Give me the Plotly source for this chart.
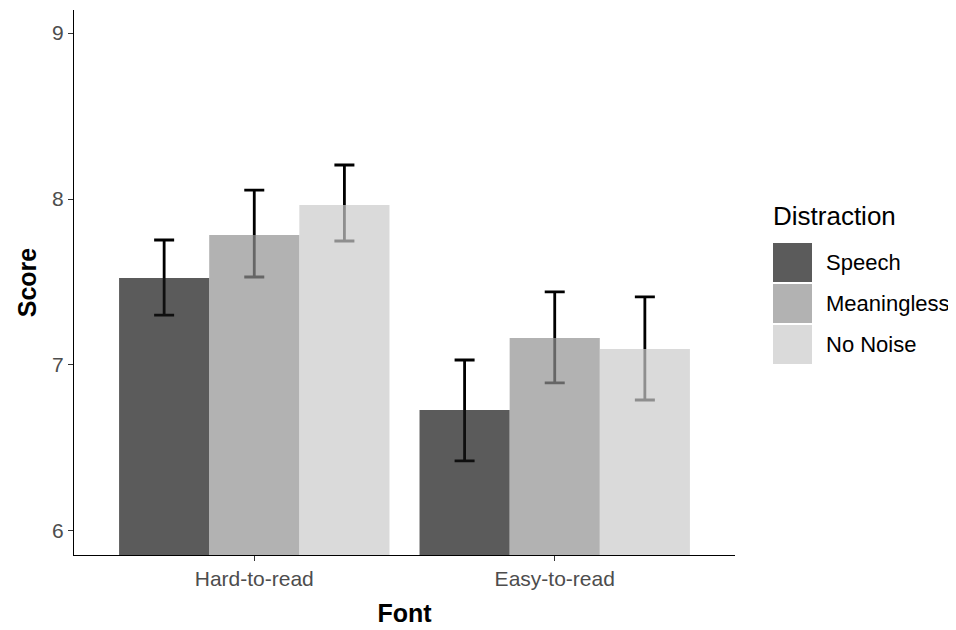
import plotly.graph_objects as go

fonts = ["Hard-to-read", "Easy-to-read"]
distractions = ["Speech", "Meaningless", "No Noise"]
scores = {
    "Speech": [7.524, 6.729],
    "Meaningless": [7.783, 7.163],
    "No Noise": [7.964, 7.096],
}
err_hi = {
    "Speech": [7.753, 7.030],
    "Meaningless": [8.054, 7.440],
    "No Noise": [8.205, 7.410],
}
err_lo = {
    "Speech": [7.301, 6.422],
    "Meaningless": [7.530, 6.892],
    "No Noise": [7.747, 6.789],
}
fill = {
    "Speech": "rgba(22,22,22,0.7)",
    "Meaningless": "rgba(146,146,146,0.7)",
    "No Noise": "rgba(202,202,202,0.7)",
}

W, H = 956, 630
OFF = 8  # page body margin
ML, MR, MT, MB = 66, 229, 2, 83
PW, PH = W - ML - MR, H - MT - MB
PX0, PY1 = ML + OFF, H - MB + OFF  # screen position of plot area left / bottom
YR = [5.855, 9.139]
XR = [-0.6, 1.6]

fig = go.Figure()

# error bars (base subplot, underneath the semi-transparent bars)
for d in distractions:
    plus = [h - m for h, m in zip(err_hi[d], scores[d])]
    minus = [m - l for m, l in zip(scores[d], err_lo[d])]
    fig.add_trace(go.Bar(
        x=fonts, y=scores[d], name=d, offsetgroup=d,
        marker=dict(color="rgba(0,0,0,0)", line=dict(width=0)),
        error_y=dict(type="data", array=plus, arrayminus=minus, symmetric=False,
                     color="black", thickness=2.8, width=10),
        showlegend=False, hoverinfo="skip", xaxis="x", yaxis="y",
    ))

# bars on overlay subplot, drawn on top
for d in distractions:
    fig.add_trace(go.Bar(
        x=fonts, y=scores[d], name=d, offsetgroup=d,
        marker=dict(color=fill[d], line=dict(width=0)),
        showlegend=False, xaxis="x2", yaxis="y2",
    ))

FAM = "Arial, Liberation Sans, sans-serif"
tickfont = dict(family=FAM, size=21, color="#4d4d4d")
fig.update_layout(
    width=W, height=H,
    margin=dict(l=ML, r=MR, t=MT, b=MB),
    paper_bgcolor="white", plot_bgcolor="white",
    barmode="group", bargap=0.1, bargroupgap=0,
    font=dict(family=FAM),
    xaxis=dict(type="category", range=XR, showgrid=False, zeroline=False,
               showline=True, linecolor="black", linewidth=1.3,
               ticks="outside", ticklen=5, tickcolor="#333333", tickwidth=1,
               tickfont=tickfont,
               title=dict(text="<b>Font</b>", font=dict(size=25, color="black"), standoff=15)),
    yaxis=dict(range=YR, showgrid=False, zeroline=False,
               showline=True, linecolor="black", linewidth=1.3,
               ticks="outside", ticklen=5, tickcolor="#333333", tickwidth=1,
               tickvals=[6, 7, 8, 9], tickfont=tickfont,
               title=dict(text="<b>Score</b>", font=dict(size=25, color="black"), standoff=8)),
    xaxis2=dict(type="category", range=XR, overlaying="x", visible=False, matches="x"),
    yaxis2=dict(range=YR, overlaying="y", visible=False, matches="y"),
)

# custom legend (ggplot-style keys)
def px_x(px):
    return (px - PX0) / PW

def px_y(py):
    return (PY1 - py) / PH

fig.add_annotation(text="Distraction", x=px_x(771), y=px_y(216), xref="paper", yref="paper",
                   xanchor="left", yanchor="middle", showarrow=False,
                   font=dict(size=26, color="black"))
key_top = 243
key_h = 39
key_step = 41
for i, d in enumerate(distractions):
    t = key_top + i * key_step
    fig.add_shape(type="rect", xref="paper", yref="paper",
                  x0=px_x(773), x1=px_x(812), y0=px_y(t + key_h), y1=px_y(t),
                  fillcolor=fill[d], line=dict(width=0))
    fig.add_annotation(text=d, x=px_x(824), y=px_y(t + key_h / 2), xref="paper", yref="paper",
                       xanchor="left", yanchor="middle", showarrow=False,
                       font=dict(size=22, color="black"))

fig.write_html("out.html")
